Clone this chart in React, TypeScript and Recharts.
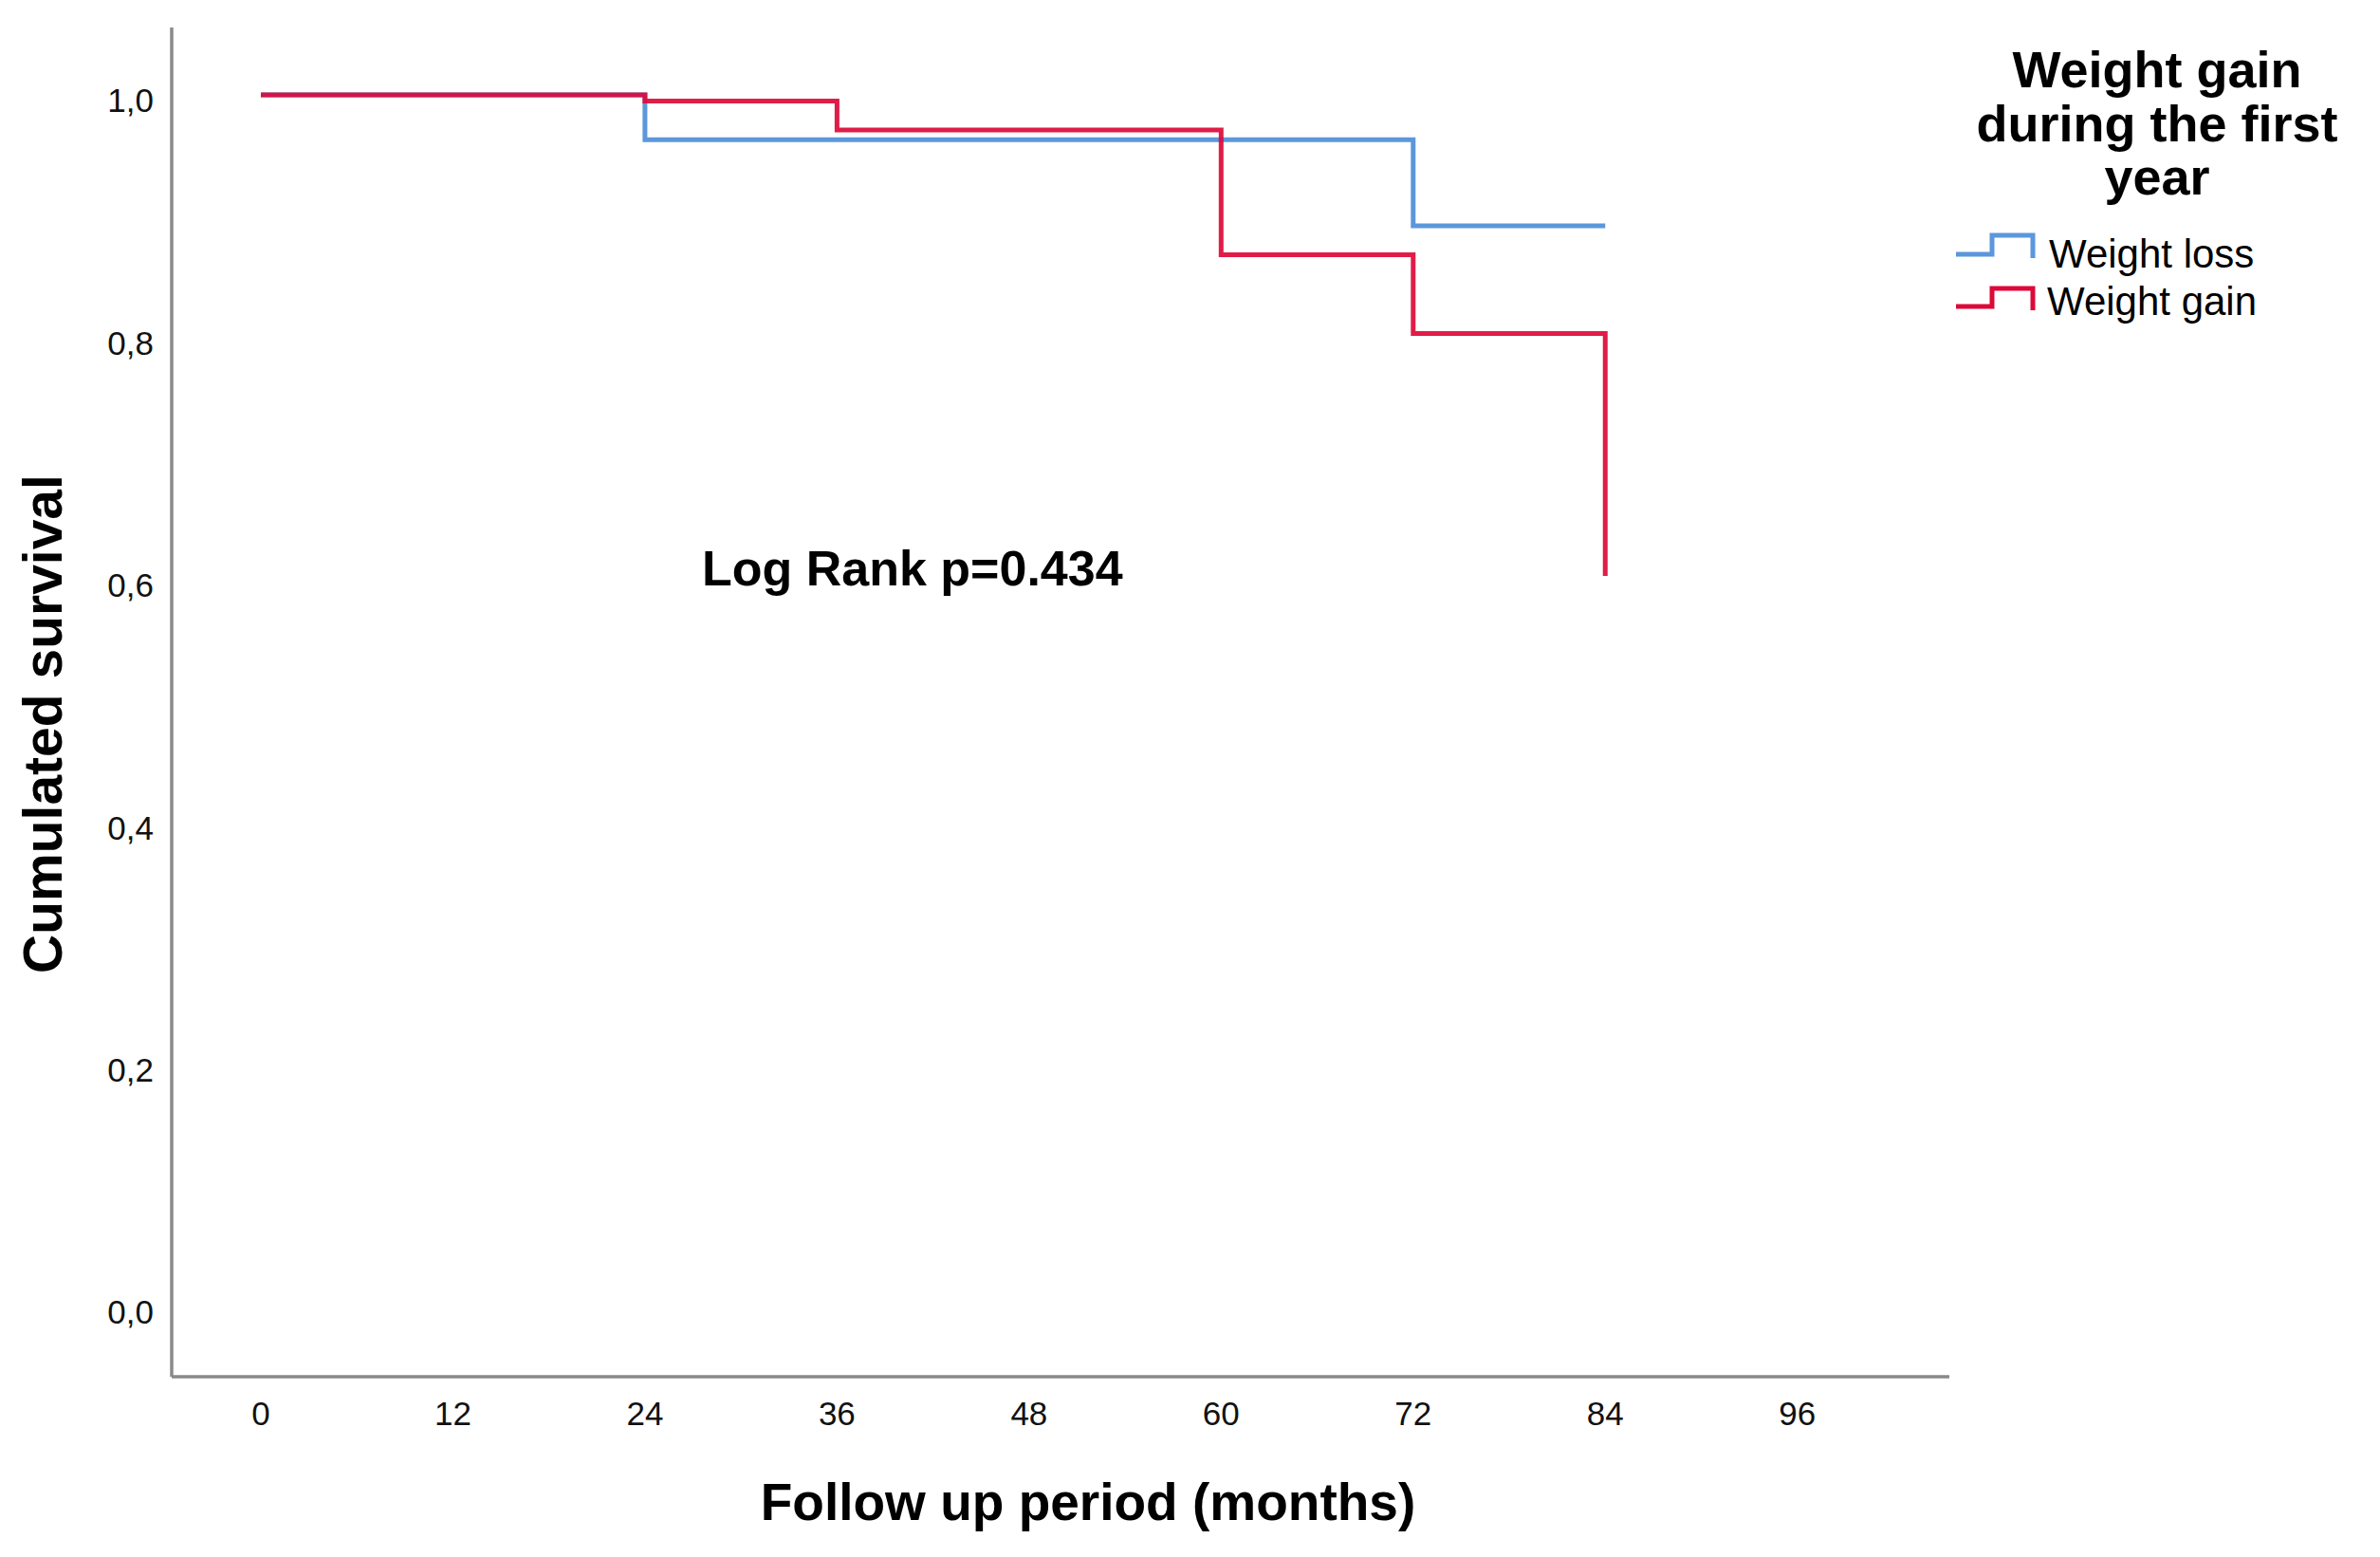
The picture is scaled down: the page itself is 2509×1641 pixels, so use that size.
import React from "react";
import { LineChart, Line, XAxis, YAxis } from "recharts";

// Kaplan-Meier steps
const lossTimes = [0, 24, 72, 84];
const lossSurvival = [1.0, 0.963, 0.892, 0.892];
const gainTimes = [0, 24, 36, 60, 72, 84];
const gainSurvival = [1.0, 0.995, 0.971, 0.868, 0.803, 0.603];

const xTicks = [0, 12, 24, 36, 48, 60, 72, 84, 96];
const yTicks = [0, 0.2, 0.4, 0.6, 0.8, 1.0];

const legendTitle = ["Weight gain", "during the first", "year"];
const lossName = "Weight loss";
const gainName = "Weight gain";

const BLUE = "#5b97dc";
const RED = "#dc0a38";
const AXIS = "#8a8a8a";
const FONT = "'Liberation Sans', Arial, sans-serif";

const W = 2509;
const H = 1641;

const lossData = lossTimes.map((t, i) => ({ t, s: lossSurvival[i] }));
const gainData = gainTimes.map((t, i) => ({ t, s: gainSurvival[i] }));

const XTick = (props: any) => {
    const { x, y, payload } = props;
    return (
        <text x={x} y={y + 51} textAnchor="middle" fontSize={35} fontFamily={FONT} fill="#111">
            {payload.value}
        </text>
    );
};

const YTick = (props: any) => {
    const { x, y, payload } = props;
    return (
        <text x={x - 19} y={y + 18.5} textAnchor="end" fontSize={35} fontFamily={FONT} fill="#111">
            {Number(payload.value).toFixed(1).replace(".", ",")}
        </text>
    );
};

export default function App() {
    return (
        <div style={{ position: "absolute", left: 0, top: 0, width: W, height: H, background: "#fff" }}>
            <LineChart
                width={W}
                height={H}
                margin={{ top: 29, left: 180, right: W - 2055, bottom: H - 1452 }}
            >
                <XAxis
                    type="number"
                    dataKey="t"
                    domain={[-5.57, 105.5]}
                    ticks={xTicks}
                    interval={0}
                    allowDataOverflow
                    height={1}
                    tickLine={false}
                    tickSize={0}
                    tickMargin={0}
                    axisLine={{ stroke: AXIS, strokeWidth: 3.5 }}
                    tick={<XTick />}
                />
                <YAxis
                    type="number"
                    domain={[-0.058, 1.0556]}
                    ticks={yTicks}
                    interval={0}
                    allowDataOverflow
                    width={1}
                    tickLine={false}
                    tickSize={0}
                    tickMargin={0}
                    axisLine={{ stroke: AXIS, strokeWidth: 3.5 }}
                    tick={<YTick />}
                />
                <Line
                    data={lossData}
                    dataKey="s"
                    name={lossName}
                    type="stepAfter"
                    stroke={BLUE}
                    strokeWidth={5}
                    dot={false}
                    activeDot={false}
                    isAnimationActive={false}
                />
                <Line
                    data={gainData}
                    dataKey="s"
                    name={gainName}
                    type="stepAfter"
                    stroke={RED}
                    strokeWidth={5}
                    strokeOpacity={0.92}
                    dot={false}
                    activeDot={false}
                    isAnimationActive={false}
                />
            </LineChart>

            {/* titles, annotation and legend on top of the chart */}
            <svg
                width={W}
                height={H}
                style={{ position: "absolute", left: 0, top: 0, pointerEvents: "none" }}
                fontFamily={FONT}
            >
                <text
                    transform="translate(65,763) rotate(-90)"
                    textAnchor="middle"
                    fontSize={57}
                    fontWeight="bold"
                    fill="#000"
                >
                    Cumulated survival
                </text>
                <text x={1147} y={1602} textAnchor="middle" fontSize={55} fontWeight="bold" fill="#000">
                    Follow up period (months)
                </text>
                <text x={740} y={617} fontSize={52} fontWeight="bold" fill="#000">
                    Log Rank p=0.434
                </text>

                {legendTitle.map((line, i) => (
                    <text key={i} x={2274} y={92 + i * 56.5} textAnchor="middle" fontSize={54} fontWeight="bold" fill="#000">
                        {line}
                    </text>
                ))}
                <path d="M2062 268 H2100 V248 H2143 V272" fill="none" stroke={BLUE} strokeWidth={5} />
                <text x={2160} y={282} fontSize={42} fill="#000">{lossName}</text>
                <path d="M2062 323 H2100 V304 H2143 V327" fill="none" stroke={RED} strokeWidth={5} />
                <text x={2158} y={332} fontSize={42} fill="#000">{gainName}</text>
            </svg>
        </div>
    );
}
